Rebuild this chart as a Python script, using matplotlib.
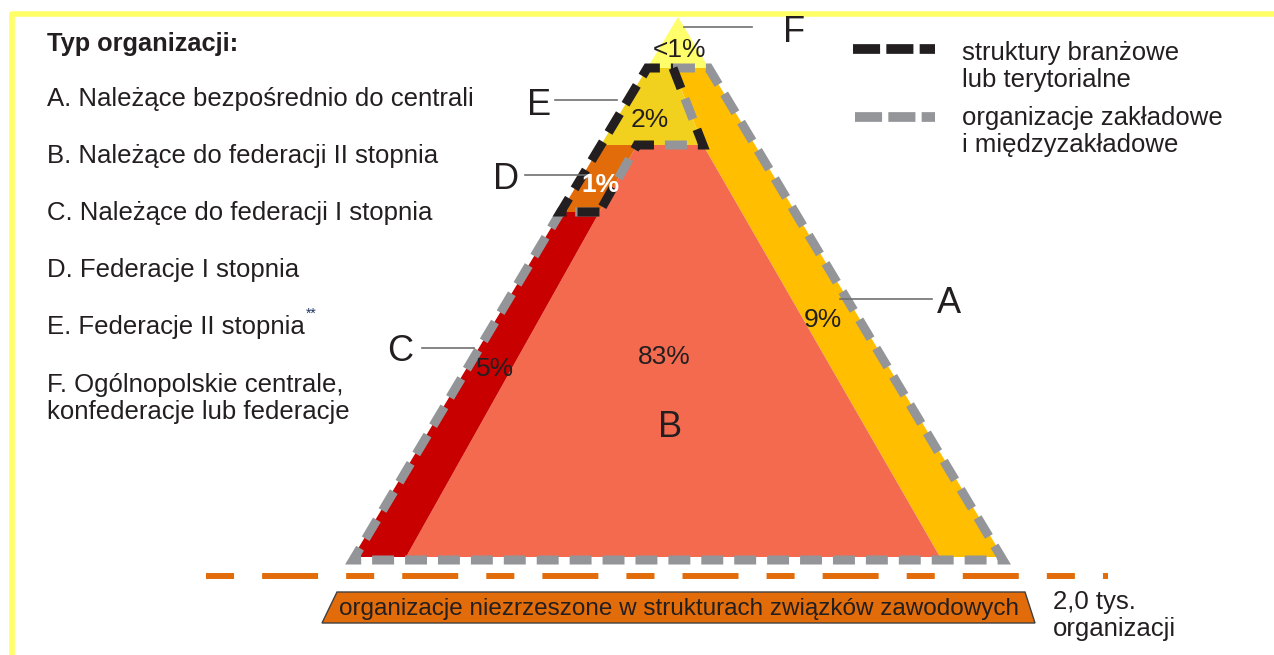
import matplotlib
matplotlib.use("Agg")
import matplotlib.pyplot as plt
import numpy as np

plt.rcParams['font.family'] = ['Liberation Sans', 'DejaVu Sans']
plt.rcParams['lines.scale_dashes'] = False

# --- data -------------------------------------------------------------
title = "Typ organizacji:"
codes = ["A", "B", "C", "D", "E", "F"]
descriptions = [["A. Należące bezpośrednio do centrali"],
                ["B. Należące do federacji II stopnia"],
                ["C. Należące do federacji I stopnia"],
                ["D. Federacje I stopnia"],
                ["E. Federacje II stopnia"],
                ["F. Ogólnopolskie centrale,", "konfederacje lub federacje"]]
shares = ["9%", "83%", "5%", "1%", "2%", "<1%"]
legend_labels = [["struktury branżowe", "lub terytorialne"],
                 ["organizacje zakładowe", "i międzyzakładowe"]]
outside_label = "organizacje niezrzeszone w strukturach związków zawodowych"
outside_value = ["2,0 tys.", "organizacji"]

colors = {"A": "#ffbf00", "B": "#f46a4f", "C": "#c80000",
          "D": "#e36c0a", "E": "#f1d11e", "F": "#ffff6b"}
grey = "#939598"
black = "#231f20"
orange = "#e36c0a"

# --- layout (pixel space) ---------------------------------------------
apex_x, apex_y, base_y, half_base = 678, 17, 557, 325
y_f, y_e, y_d = 68, 145, 212


def left(y):
    return apex_x - half_base * (y - apex_y) / (base_y - apex_y)


def right(y):
    return apex_x + half_base * (y - apex_y) / (base_y - apex_y)


def cb(y):
    return np.interp(y, [y_e, base_y], [637, 406])


def aline(y):
    return np.interp(y, [y_f, y_e, base_y], [673, 703, 940])


polys = {
    "F": [(apex_x, apex_y), (right(y_f), y_f), (left(y_f), y_f)],
    "E": [(left(y_f), y_f), (aline(y_f), y_f), (aline(y_e), y_e), (left(y_e), y_e)],
    "A": [(aline(y_f), y_f), (right(y_f), y_f), (right(base_y), base_y),
          (aline(base_y), base_y), (aline(y_e), y_e)],
    "B": [(cb(y_e), y_e), (aline(y_e), y_e), (aline(base_y), base_y), (cb(base_y), base_y)],
    "D": [(left(y_e), y_e), (cb(y_e), y_e), (cb(y_d), y_d), (left(y_d), y_d)],
    "C": [(left(y_d), y_d), (cb(y_d), y_d), (cb(base_y), base_y), (left(base_y), base_y)],
}

fig = plt.figure(figsize=(12.74, 6.55), dpi=100)
ax = fig.add_axes([0, 0, 1, 1])
ax.set_xlim(0, 1274)
ax.set_ylim(655, 0)
ax.axis('off')

# yellow frame
ax.plot([12, 1274], [14, 14], color="#ffff66", lw=4, solid_capstyle='butt')
ax.plot([12, 12], [12, 655], color="#ffff66", lw=4, solid_capstyle='butt')

for c in codes:
    xs, ys = zip(*polys[c])
    ax.fill(xs, ys, color=colors[c], lw=0)

dash_lw = 6.5
on, off = 15.8, 7.9


def dashed(pts, col, pattern, offset=0):
    xs, ys = zip(*pts)
    ax.plot(xs, ys, color=col, lw=dash_lw, linestyle=(offset, pattern),
            dash_capstyle='butt', dash_joinstyle='miter')


# grey outline of A, B, C
dashed([(aline(y_f), y_f), (right(y_f), y_f), (right(base_y), base_y + 3),
        (left(base_y), base_y + 3), (left(y_d), y_d), (cb(y_d), y_d)], grey, (on, off))
# black outline of D, E (outer part)
dashed([(cb(y_d), y_d), (left(y_d), y_d), (left(y_f), y_f), (aline(y_f), y_f)],
       black, (on, off))
# shared boundaries: alternating black and grey
shared = [(aline(y_f), y_f), (aline(y_e), y_e), (cb(y_e), y_e), (cb(y_d), y_d)]
dashed(shared, black, (on, on + 2 * off))
dashed(shared, grey, (on, on + 2 * off), offset=on + off)

# percentage labels
share_pos = {"A": (823, 327), "B": (664, 364), "C": (495, 376),
             "D": (600, 192), "E": (650, 127), "F": (679, 57)}
for c, s in zip(codes, shares):
    x, y = share_pos[c]
    if c == "D":
        ax.text(x, y, s, ha='center', va='baseline', fontsize=19,
                color='white', fontweight='bold')
    else:
        ax.text(x, y, s, ha='center', va='baseline', fontsize=19, color=black)

# code letters with leader lines
letter_pos = {"A": (937, 313), "C": (387, 361), "D": (493, 189),
              "E": (527, 115), "F": (783, 42)}
leaders = {"A": ((840, 932), 299), "C": ((422, 474), 348), "D": ((525, 588), 175),
           "E": ((555, 617), 100), "F": ((684, 752), 27)}
for c in codes:
    if c == "B":
        ax.text(670, 437, c, ha='center', va='baseline', fontsize=26, color=black)
        continue
    x, y = letter_pos[c]
    ax.text(x, y, c, ha='left', va='baseline', fontsize=26, color=black)
    (x0, x1), ly = leaders[c]
    ax.plot([x0, x1], [ly, ly], color="#707070", lw=1.2)

# left legend
ax.text(47, 51, title, fontsize=18.3, fontweight='bold', color=black, va='baseline')
desc_y = [106, 163, 220, 277, 334, 392]
for lines, y in zip(descriptions, desc_y):
    for i, line in enumerate(lines):
        ax.text(47, y + 27 * i, line, fontsize=18.5, color=black, va='baseline')
ax.text(306, 318, "**", fontsize=10, color="#1f3864", va='baseline')

# line style legend
ax.plot([853, 935], [49, 49], color=black, lw=7, linestyle=(0, (19.5, 4.5)),
        dash_capstyle='butt')
ax.plot([855, 935], [117, 117], color=grey, lw=7, linestyle=(0, (19.5, 4.5)),
        dash_capstyle='butt')
for lines, y in zip(legend_labels, [60, 125]):
    for i, line in enumerate(lines):
        ax.text(962, y + 27 * i, line, fontsize=18.5, color=black, va='baseline')

# unaffiliated organisations
ax.plot([206, 1108], [576, 576], color=orange, lw=4.3,
        linestyle=(0, (20.2, 20.2, 40.3, 20.2)), dash_capstyle='butt')
ax.fill([337, 1025, 1035, 322], [592, 592, 623, 623], facecolor=orange,
        edgecolor="#404040", lw=1)
ax.text(679, 615, outside_label, ha='center', va='baseline', fontsize=17.5, color=black)
for i, line in enumerate(outside_value):
    ax.text(1053, 609 + 27 * i, line, fontsize=18.5, color=black, va='baseline')

fig.savefig("out.png", dpi=100)
